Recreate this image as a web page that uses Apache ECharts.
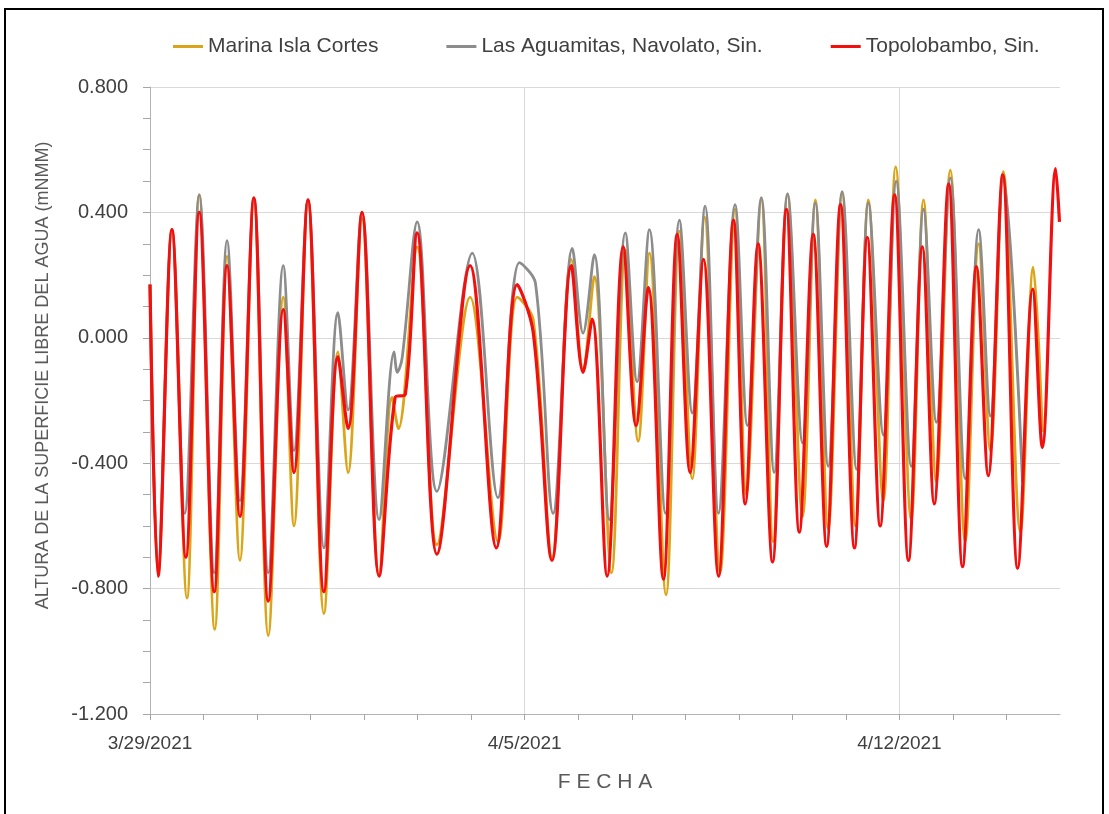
<!DOCTYPE html>
<html>
<head>
<meta charset="utf-8">
<script src="https://cdn.jsdelivr.net/npm/echarts@6/dist/echarts.min.js"></script>
<style>
  html, body { margin: 0; padding: 0; background: #fff; }
  #chart { width: 1109px; height: 814px; }
</style>
</head>
<body>
<div id="chart"></div>
<script>
// Sea-level records, 29 March – 15 April 2021.
// Each point: [days since 3/29/2021 00:00, water level (m NMM)], turning points of the tide.
const START_DATE = Date.UTC(2021, 2, 29);
const DAY_MS = 86400000;

const seriesNames = ['Marina Isla Cortes', 'Las Aguamitas, Navolato, Sin.', 'Topolobambo, Sin.'];

const marinaIslaCortes = [
  [0, 0.17], [0.15, -0.76], [0.41, 0.345], [0.69, -0.83], [0.92, 0.456], [1.21, -0.93],
  [1.44, 0.26], [1.68, -0.71], [1.94, 0.446], [2.21, -0.95], [2.49, 0.13], [2.69, -0.60],
  [2.95, 0.44], [3.25, -0.88], [3.51, -0.045], [3.70, -0.43], [3.96, 0.38], [4.28, -0.76],
  [4.52, -0.19], [4.64, -0.29], [4.99, 0.29], [5.36, -0.66], [5.98, 0.13], [6.50, -0.65],
  [6.86, 0.13], [7.16, 0.057], [7.51, -0.70], [7.87, 0.25], [8.09, -0.10], [8.30, 0.195],
  [8.62, -0.75], [8.88, 0.28], [9.12, -0.33], [9.33, 0.27], [9.64, -0.82], [9.89, 0.34],
  [10.13, -0.45], [10.36, 0.385], [10.65, -0.75], [10.93, 0.41], [11.14, -0.50], [11.42, 0.44],
  [11.64, -0.65], [11.91, 0.455], [12.19, -0.57], [12.43, 0.44], [12.67, -0.61], [12.93, 0.46],
  [13.18, -0.60], [13.42, 0.44], [13.70, -0.52], [13.93, 0.545], [14.22, -0.58], [14.45, 0.44],
  [14.69, -0.46], [14.95, 0.535], [15.23, -0.65], [15.48, 0.30], [15.70, -0.36], [15.94, 0.53],
  [16.26, -0.62], [16.50, 0.225], [16.67, -0.30]
];

const lasAguamitas = [
  [0, 0.17], [0.15, -0.74], [0.41, 0.345], [0.65, -0.56], [0.92, 0.456], [1.20, -0.75],
  [1.44, 0.31], [1.68, -0.52], [1.94, 0.446], [2.21, -0.75], [2.49, 0.23], [2.69, -0.36],
  [2.95, 0.44], [3.25, -0.67], [3.51, 0.08], [3.70, -0.23], [3.96, 0.40], [4.28, -0.58],
  [4.56, -0.045], [4.62, -0.11], [4.71, -0.065], [4.99, 0.37], [5.36, -0.49], [6.02, 0.27],
  [6.50, -0.51], [6.90, 0.24], [7.20, 0.175], [7.53, -0.56], [7.89, 0.285], [8.09, 0.015],
  [8.30, 0.265], [8.58, -0.58], [8.88, 0.335], [9.10, -0.14], [9.33, 0.345], [9.63, -0.56],
  [9.89, 0.375], [10.13, -0.24], [10.37, 0.42], [10.62, -0.56], [10.93, 0.425], [11.16, -0.28],
  [11.42, 0.447], [11.66, -0.43], [11.91, 0.46], [12.19, -0.335], [12.43, 0.43], [12.67, -0.41],
  [12.93, 0.466], [13.20, -0.42], [13.42, 0.43], [13.70, -0.31], [13.94, 0.50], [14.22, -0.41],
  [14.45, 0.41], [14.69, -0.27], [14.95, 0.51], [15.23, -0.45], [15.48, 0.345], [15.70, -0.25],
  [15.94, 0.51], [16.30, -0.46]
];

const topolobambo = [
  [0, 0.17], [0.15, -0.76], [0.41, 0.345], [0.67, -0.70], [0.92, 0.40], [1.20, -0.81],
  [1.44, 0.23], [1.68, -0.57], [1.94, 0.446], [2.21, -0.84], [2.49, 0.09], [2.69, -0.43],
  [2.95, 0.44], [3.25, -0.81], [3.51, -0.06], [3.70, -0.29], [3.96, 0.40], [4.28, -0.76],
  [4.58, -0.19], [4.77, -0.18], [4.99, 0.335], [5.36, -0.69], [5.98, 0.23], [6.47, -0.67],
  [6.86, 0.17], [7.16, 0.016], [7.51, -0.71], [7.87, 0.23], [8.09, -0.11], [8.26, 0.06],
  [8.54, -0.76], [8.84, 0.29], [9.08, -0.28], [9.31, 0.16], [9.59, -0.77], [9.85, 0.33],
  [10.09, -0.43], [10.34, 0.25], [10.62, -0.76], [10.90, 0.375], [11.12, -0.53], [11.36, 0.30],
  [11.63, -0.715], [11.89, 0.41], [12.13, -0.62], [12.39, 0.33], [12.64, -0.665], [12.90, 0.425],
  [13.16, -0.67], [13.40, 0.32], [13.64, -0.60], [13.91, 0.456], [14.17, -0.71], [14.43, 0.29],
  [14.65, -0.53], [14.92, 0.49], [15.18, -0.73], [15.44, 0.227], [15.66, -0.44], [15.93, 0.52],
  [16.21, -0.735], [16.49, 0.155], [16.67, -0.35], [16.92, 0.54], [16.99, 0.37]
];

// Vertical reference lines at the labelled weeks
const weekMarks = [7, 14];

const seriesColors = ['#DBA519', '#8C8C8C', '#F20F0F'];
const seriesWidths = [2.8, 2.8, 3.2];

const FONT = "'Liberation Sans', Arial, sans-serif";

function dateLabel(v) {
  const d = Math.round(v);
  if (d % 7 !== 0) return '';
  const dt = new Date(START_DATE + d * DAY_MS);
  return (dt.getUTCMonth() + 1) + '/' + dt.getUTCDate() + '/' + dt.getUTCFullYear();
}

const chart = echarts.init(document.getElementById('chart'), null, { renderer: 'canvas' });

const dataSets = [marinaIslaCortes, lasAguamitas, topolobambo];
const series = dataSets.map((data, i) => ({
  name: seriesNames[i],
  type: 'line',
  data: data,
  smooth: 0.35,
  showSymbol: false,
  symbol: 'none',
  lineStyle: { color: seriesColors[i], width: seriesWidths[i] },
  itemStyle: { color: seriesColors[i] },
  z: 2 + i
}));

series[0].markLine = {
  silent: true,
  symbol: 'none',
  label: { show: false },
  lineStyle: { color: '#d9d9d9', width: 1, type: 'solid' },
  data: weekMarks.map(d => ({ xAxis: d })),
  z: 1
};

chart.setOption({
  backgroundColor: '#ffffff',
  animation: false,
  graphic: [{
    type: 'rect',
    shape: { x: 5, y: 9, width: 1098, height: 830 },
    style: { fill: 'none', stroke: '#000', lineWidth: 2 },
    silent: true
  }],
  legend: {
    top: 31,
    left: 168,
    icon: 'rect',
    itemWidth: 30,
    itemHeight: 3,
    itemGap: 68,
    textStyle: { fontFamily: FONT, fontSize: 21, color: '#404040' },
    data: seriesNames
  },
  grid: { left: 150, right: 49, top: 87, bottom: 100 },
  xAxis: {
    type: 'value',
    min: 0,
    max: 17,
    interval: 1,
    name: 'F E C H A',
    nameLocation: 'middle',
    nameGap: 58,
    nameTextStyle: { fontFamily: FONT, fontSize: 21, color: '#595959' },
    axisLine: { show: true, onZero: false, lineStyle: { color: '#b3b3b3', width: 1 } },
    axisTick: { show: true, length: 6, lineStyle: { color: '#a6a6a6' } },
    axisLabel: {
      formatter: dateLabel,
      margin: 20,
      showMaxLabel: false,
      fontFamily: FONT,
      fontSize: 19,
      color: '#404040'
    },
    splitLine: { show: false }
  },
  yAxis: {
    type: 'value',
    min: -1.2,
    max: 0.8,
    interval: 0.4,
    name: 'ALTURA DE LA SUPERFICIE LIBRE DEL AGUA (mNMM)',
    nameLocation: 'middle',
    nameGap: 98,
    nameTextStyle: { fontFamily: FONT, fontSize: 18, color: '#595959', padding: [0, 0, 0, 50] },
    axisLine: { show: true, onZero: false, lineStyle: { color: '#b3b3b3', width: 1 } },
    axisTick: { show: true, length: 7, lineStyle: { color: '#a6a6a6' } },
    minorTick: { show: true, splitNumber: 4, length: 7, lineStyle: { color: '#a6a6a6' } },
    axisLabel: {
      formatter: v => v.toFixed(3),
      margin: 22,
      fontFamily: FONT,
      fontSize: 20,
      color: '#404040'
    },
    splitLine: { show: true, lineStyle: { color: '#d9d9d9', width: 1 } }
  },
  series: series
});
</script>
</body>
</html>
